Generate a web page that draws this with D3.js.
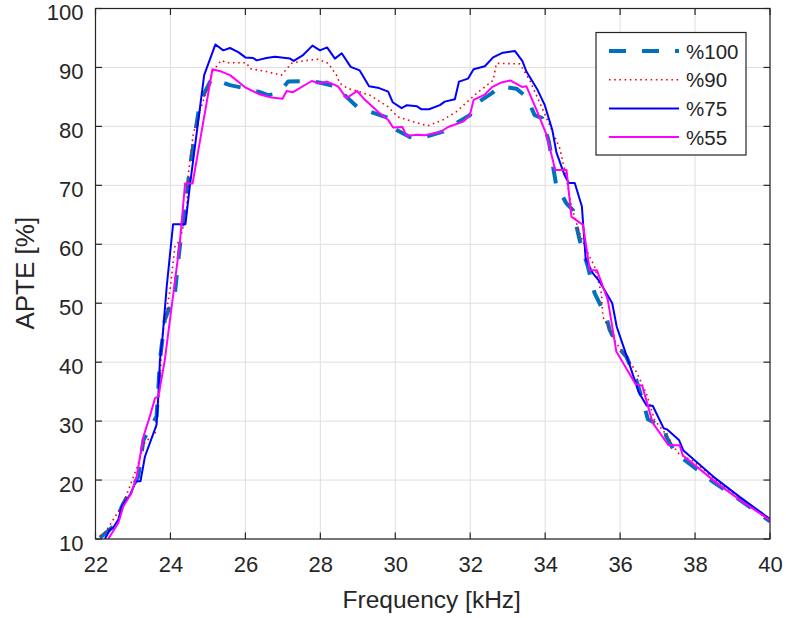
<!DOCTYPE html>
<html>
<head>
<meta charset="utf-8">
<script src="https://cdn.jsdelivr.net/npm/d3@7"></script>
<style>
    body { margin: 0; background: #fff; }
    #chart-area { width: 786px; height: 618px; }
    text { font-family: "Liberation Sans", Arial, Helvetica, sans-serif; fill: #262626; }
</style>
</head>
<body>
<div id="chart-area"></div>
<script>

// series: [frequency (kHz), APTE (%)]
let p100 = [[22.12,10.2],[22.47,12.1],[22.74,16],[23.14,20.6],[23.28,26.8],[23.63,30.8],[23.68,35.9],[23.72,40.4],
    [23.85,47.2],[24.12,51.7],[24.21,57.3],[24.30,62.4],[24.43,68.1],[24.52,73.2],[24.79,84.2],[25.1,88.1],[25.59,87.0],
    [26.03,86.4],[26.39,85.8],[26.6,85.3],[26.88,85.6],[27.14,87.6],[27.68,87.7],[28.0,87.4],[28.47,86.7],[28.65,85.3],
    [29.05,82.9],[29.32,82.5],[29.83,81.4],[29.94,79.7],[30.39,78.2],[30.74,78.1],[31.27,79.1],[31.54,80.2],[31.99,81.9],
    [32.17,83.9],[32.57,85.6],[32.79,86.8],[33.23,86.4],[33.50,85.0],[33.72,81.9],[33.92,81.4],[34.10,77.4],[34.29,70.2],
    [34.56,67.0],[34.74,65.8],[34.92,60.7],[35.14,56.2],[35.32,51.7],[35.45,50.0],[35.63,47.7],[35.72,45.5],[35.94,42.6],
    [36.17,40.9],[36.43,37.0],[36.65,32.5],[36.74,30.3],[37.19,28.8],[37.23,27.4],[37.50,24.3],[37.72,23.4],[38.5,19.6],
    [39.2,16.6],[40,13.0]];

let p90 = [[22.12,10.5],[22.25,11.0],[22.74,16],[23.10,22.0],[23.32,26.5],[23.59,27.7],[23.72,35.9],[23.77,44],
    [23.99,52.3],[24.12,59.6],[24.25,60.7],[24.43,65.3],[24.48,72.0],[24.61,78.8],[24.79,82.7],[25.14,89.5],[25.36,91.2],
    [25.5,90.8],[26.03,90.8],[26.12,89.8],[26.56,89.3],[26.96,88.7],[27.23,90.7],[27.54,91.1],[27.94,91.4],[28.21,90.7],
    [28.43,88.7],[28.52,87.3],[28.74,86.4],[28.93,86.1],[29.32,85.3],[29.81,83.3],[30.07,81.6],[30.47,80.8],[30.87,80.1],
    [31.27,81.1],[31.63,82.5],[32.17,85.6],[32.61,87.8],[32.70,90.7],[33.32,90.6],[33.59,87.8],[33.94,82.8],[34.39,76.3],
    [34.56,71.5],[34.70,66.4],[34.92,61.9],[35.1,59],[35.32,56.2],[35.5,51.7],[35.54,47.7],[35.9,43.2],[36.43,38.4],
    [36.7,34.7],[36.92,30.2],[37.27,27.4],[37.54,24.6],[37.95,23.2],[38.6,19.8],[39.3,16.5],[40,13.0]];

let p75 = [[22.25,10],[22.39,11.6],[22.47,11.9],[22.61,13.3],[22.70,15.5],[22.92,17.5],[23.08,19.8],[23.2,19.8],
    [23.32,24.0],[23.63,29.4],[23.68,34.7],[23.72,40.4],[23.79,44.3],[23.9,52.8],[24.07,63.4],[24.40,63.4],[24.52,70.0],
    [24.9,88.7],[25.2,93.9],[25.41,92.9],[25.59,93.3],[25.81,92.6],[26.0,91.7],[26.21,91.6],[26.3,91.2],[26.56,91.6],
    [26.79,91.8],[27.19,91.5],[27.29,91.1],[27.54,92.1],[27.79,93.7],[27.99,92.9],[28.18,93.4],[28.39,91.5],[28.57,92.4],
    [28.81,90.1],[29.05,89.5],[29.30,86.8],[29.57,86.5],[29.81,85.9],[29.93,84.1],[30.17,83.1],[30.31,83.6],[30.58,83.4],
    [30.70,82.9],[30.90,82.9],[31.19,83.6],[31.32,84.2],[31.59,84.6],[31.70,87.6],[31.94,88.1],[32.09,89.7],[32.39,90.2],
    [32.61,91.7],[32.87,92.5],[33.19,92.8],[33.39,91.1],[33.50,89.3],[33.78,86.4],[33.99,83.6],[34.19,79.4],[34.30,75.6],
    [34.52,71.7],[34.63,70.4],[34.79,70.4],[34.98,66.4],[35.08,57.6],[35.27,55.1],[35.45,53.7],[35.79,50.0],[35.91,46.0],
    [36.21,40.4],[36.49,35.0],[36.71,32.6],[36.87,32.6],[37.16,28.8],[37.25,28.6],[37.57,26.8],[37.69,25.0],[38.5,20.5],
    [39.2,17.1],[40,13.4]];

let p55 = [[22.34,10],[22.47,11.3],[22.61,12.7],[22.74,15.5],[22.96,17.8],[23.10,20.6],[23.28,27.4],[23.45,30.8],
    [23.59,33.9],[23.68,34.2],[23.85,40.4],[24.25,60.2],[24.39,70.3],[24.59,70.3],[25.12,89.7],[25.36,89.3],[25.59,88.7],
    [26.0,86.6],[26.39,85.4],[26.70,84.9],[26.99,84.7],[27.10,86.0],[27.27,85.8],[27.77,87.7],[27.99,87.3],[28.18,87.6],
    [28.47,86.8],[28.70,84.8],[28.98,86.0],[29.19,84.5],[29.54,82.5],[29.81,81.1],[29.94,79.8],[30.19,79.9],[30.30,78.4],
    [30.61,78.6],[30.79,78.5],[31.19,79.0],[31.41,79.9],[31.81,80.8],[31.99,81.9],[32.09,84.5],[32.39,85.4],[32.59,86.7],
    [32.81,87.4],[33.07,87.8],[33.38,86.7],[33.50,86.8],[33.77,82.8],[34.03,78.7],[34.27,72.6],[34.57,72.6],[34.70,64.7],
    [35.01,63.3],[35.19,55.6],[35.38,55.6],[35.67,50.6],[35.90,41.8],[36.41,36.3],[36.59,36.0],[36.87,29.7],[37.29,25.9],
    [37.59,25.9],[37.67,24.2],[38.5,19.9],[39.2,16.6],[40,13.2]];

let seriesNames = ["%100", "%90", "%75", "%55"];
let xTicks = [22, 24, 26, 28, 30, 32, 34, 36, 38, 40];
let yTicks = [10, 20, 30, 40, 50, 60, 70, 80, 90, 100];


class apteChart {

    constructor(_parentElement, _series) {
        this.parentElement = _parentElement;
        this.series = _series;
        this.initVis();
    }

    initVis() {
        let vis = this;

        vis.margin = { top: 8.5, right: 16, bottom: 79, left: 95.5 };
        vis.width = 786 - vis.margin.left - vis.margin.right;
        vis.height = 618 - vis.margin.top - vis.margin.bottom;

        vis.svg = d3.select("#" + vis.parentElement).append("svg")
            .attr("width", 786)
            .attr("height", 618)
            .append("g")
            .attr("transform", "translate(" + vis.margin.left + "," + vis.margin.top + ")");

        vis.x = d3.scaleLinear().domain([22, 40]).range([0, vis.width]);
        vis.y = d3.scaleLinear().domain([10, 100]).range([vis.height, 0]);

        // grid
        vis.svg.append("g").attr("class", "grid")
            .selectAll("line.gx").data(xTicks).enter().append("line")
            .attr("x1", d => vis.x(d)).attr("x2", d => vis.x(d))
            .attr("y1", 0).attr("y2", vis.height)
            .style("stroke", "#dfdfdf").style("stroke-width", 1);
        vis.svg.append("g").attr("class", "grid")
            .selectAll("line.gy").data(yTicks).enter().append("line")
            .attr("y1", d => vis.y(d)).attr("y2", d => vis.y(d))
            .attr("x1", 0).attr("x2", vis.width)
            .style("stroke", "#dfdfdf").style("stroke-width", 1);

        // clip
        vis.svg.append("clipPath").attr("id", "plot-clip")
            .append("rect").attr("width", vis.width).attr("height", vis.height);

        vis.line = d3.line()
            .x(d => vis.x(d[0]))
            .y(d => vis.y(d[1]));

        vis.lines = vis.svg.append("g").attr("clip-path", "url(#plot-clip)");
        vis.lines.selectAll(".series")
            .data(vis.series)
            .enter().append("path")
            .attr("class", "series")
            .attr("d", d => vis.line(d.values))
            .style("fill", "none")
            .style("stroke", d => d.color)
            .style("stroke-width", d => d.width)
            .style("stroke-dasharray", d => d.dash)
            .style("stroke-linejoin", "round");

        // axes (ticks inside, box on)
        let tick = 6.5;
        vis.xAxis = d3.axisBottom(vis.x).tickValues(xTicks).tickSize(0).tickPadding(17.5);
        vis.yAxis = d3.axisLeft(vis.y).tickValues(yTicks).tickSize(0).tickPadding(12);

        let xg = vis.svg.append("g").attr("class", "x-axis axis")
            .attr("transform", "translate(0," + vis.height + ")")
            .call(vis.xAxis);
        let yg = vis.svg.append("g").attr("class", "y-axis axis")
            .call(vis.yAxis);
        [xg, yg].forEach(g => {
            g.select(".domain").remove();
            g.selectAll("text").style("font-size", "22px").style("fill", "#262626")
                .style("font-family", "'Liberation Sans', Arial, sans-serif");
        });
        yg.selectAll("text").attr("dy", "0.52em");

        let frame = vis.svg.append("g").attr("class", "frame");
        frame.selectAll(".tb").data(xTicks).enter().append("line")
            .attr("x1", d => vis.x(d)).attr("x2", d => vis.x(d))
            .attr("y1", vis.height).attr("y2", vis.height - tick);
        frame.selectAll(".tt").data(xTicks).enter().append("line")
            .attr("x1", d => vis.x(d)).attr("x2", d => vis.x(d))
            .attr("y1", 0).attr("y2", tick);
        frame.selectAll(".tl").data(yTicks).enter().append("line")
            .attr("y1", d => vis.y(d)).attr("y2", d => vis.y(d))
            .attr("x1", 0).attr("x2", tick);
        frame.selectAll(".tr").data(yTicks).enter().append("line")
            .attr("y1", d => vis.y(d)).attr("y2", d => vis.y(d))
            .attr("x1", vis.width).attr("x2", vis.width - tick);
        frame.append("rect")
            .attr("width", vis.width).attr("height", vis.height)
            .style("fill", "none");
        frame.selectAll("line, rect")
            .style("stroke", "#262626").style("stroke-width", 1.2);

        // axis titles
        vis.svg.append("text")
            .attr("class", "axis-text")
            .attr("x", vis.width / 2 - 1)
            .attr("y", vis.height + 69)
            .style("text-anchor", "middle")
            .style("font-size", "24.5px")
            .text("Frequency [kHz]");
        vis.svg.append("text")
            .attr("class", "axis-text")
            .attr("transform", "translate(" + (-62) + "," + (vis.height / 2 - 0.5) + ") rotate(-90)")
            .style("text-anchor", "middle")
            .style("font-size", "26px")
            .text("APTE [%]");

        vis.drawLegend();
    }

    drawLegend() {
        let vis = this;

        let lg = vis.svg.append("g")
            .attr("class", "legend")
            .attr("transform", "translate(" + (596 - vis.margin.left) + "," + (32.5 - vis.margin.top) + ")");

        lg.append("rect")
            .attr("width", 150).attr("height", 122.5)
            .style("fill", "#fff")
            .style("stroke", "#262626").style("stroke-width", 1.2);

        let rows = lg.selectAll(".lrow")
            .data(vis.series)
            .enter().append("g")
            .attr("class", "lrow")
            .attr("transform", (d, i) => "translate(0," + (18.5 + i * 28.7) + ")");

        rows.append("line")
            .attr("x1", 13).attr("x2", 83)
            .style("stroke", d => d.color)
            .style("stroke-width", d => d.width)
            .style("stroke-dasharray", d => d.dash);

        rows.append("text")
            .attr("x", 90).attr("y", 7.5)
            .style("font-size", "20.5px")
            .text(d => d.name);
    }
}

let seriesData = [
    { name: seriesNames[0], values: p100, color: "#0072BD", width: 4, dash: "17,16" },
    { name: seriesNames[1], values: p90, color: "#FF0000", width: 1.6, dash: "1.6,3.6" },
    { name: seriesNames[2], values: p75, color: "#0000FF", width: 2, dash: null },
    { name: seriesNames[3], values: p55, color: "#FF00FF", width: 2, dash: null }
];

new apteChart("chart-area", seriesData);

</script>
</body>
</html>
